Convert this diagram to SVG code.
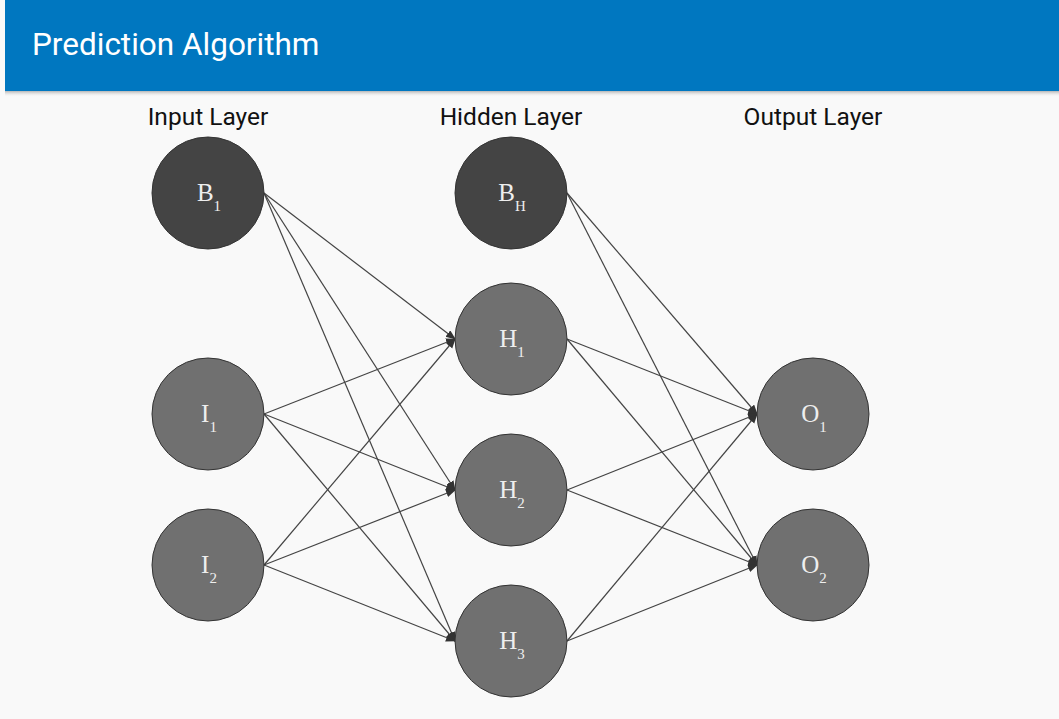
<svg xmlns="http://www.w3.org/2000/svg" width="1059" height="719" viewBox="0 0 1059 719">
<style>
.bg{fill:#f9f9f9}
.hdr{fill:#0077c0}
.title{font-family:Roboto,"Liberation Sans",sans-serif;font-size:31.5px;fill:#ffffff}
.layer{font-family:Roboto,"Liberation Sans",sans-serif;font-size:24.5px;fill:#111111;text-anchor:middle}
.bias{fill:#444444;stroke:#333333;stroke-width:1}
.unit{fill:#707070;stroke:#333333;stroke-width:1}
.lbl{font-family:"Liberation Serif","Times New Roman",serif;font-size:25px;fill:#eeeeee;text-anchor:middle}
.sub{font-size:15px}
.edge{stroke:#444444;stroke-width:1.2;fill:none;marker-end:url(#arr)}
</style>
<defs>
<marker id="arr" markerUnits="userSpaceOnUse" markerWidth="10" markerHeight="10" refX="9" refY="4" orient="auto">
<path d="M0,0 L10,4 L0,8 z" fill="#333333"/>
</marker>
<linearGradient id="shadow" x1="0" y1="0" x2="0" y2="1">
<stop offset="0" stop-color="#999999" stop-opacity="0.7"/>
<stop offset="1" stop-color="#f9f9f9" stop-opacity="0"/>
</linearGradient>
</defs>
<rect class="bg" x="0" y="0" width="1059" height="719"/>
<rect x="5" y="91" width="1054" height="6" fill="url(#shadow)"/>
<rect class="hdr" x="5" y="0" width="1054" height="91"/>
<text class="title" x="32" y="55">Prediction Algorithm</text>
<text class="layer" x="208" y="125">Input Layer</text>
<text class="layer" x="511" y="125">Hidden Layer</text>
<text class="layer" x="813" y="125">Output Layer</text>
<g id="connectors">
<line class="edge" x1="264" y1="193" x2="455" y2="339"/>
<line class="edge" x1="264" y1="193" x2="455" y2="490"/>
<line class="edge" x1="264" y1="193" x2="455" y2="641"/>
<line class="edge" x1="264" y1="414" x2="455" y2="339"/>
<line class="edge" x1="264" y1="414" x2="455" y2="490"/>
<line class="edge" x1="264" y1="414" x2="455" y2="641"/>
<line class="edge" x1="264" y1="565" x2="455" y2="339"/>
<line class="edge" x1="264" y1="565" x2="455" y2="490"/>
<line class="edge" x1="264" y1="565" x2="455" y2="641"/>
<line class="edge" x1="567" y1="193" x2="757" y2="414"/>
<line class="edge" x1="567" y1="193" x2="757" y2="565"/>
<line class="edge" x1="567" y1="339" x2="757" y2="414"/>
<line class="edge" x1="567" y1="339" x2="757" y2="565"/>
<line class="edge" x1="567" y1="490" x2="757" y2="414"/>
<line class="edge" x1="567" y1="490" x2="757" y2="565"/>
<line class="edge" x1="567" y1="641" x2="757" y2="414"/>
<line class="edge" x1="567" y1="641" x2="757" y2="565"/>
</g>
<g id="B1"><circle class="bias" cx="208" cy="193" r="56"/><text class="lbl" x="209" y="201">B<tspan class="sub" dy="10">1</tspan></text></g>
<g id="I1"><circle class="unit" cx="208" cy="414" r="56"/><text class="lbl" x="209" y="422">I<tspan class="sub" dy="10">1</tspan></text></g>
<g id="I2"><circle class="unit" cx="208" cy="565" r="56"/><text class="lbl" x="209" y="573">I<tspan class="sub" dy="10">2</tspan></text></g>
<g id="BH"><circle class="bias" cx="511" cy="193" r="56"/><text class="lbl" x="512" y="201">B<tspan class="sub" dy="10">H</tspan></text></g>
<g id="H1"><circle class="unit" cx="511" cy="339" r="56"/><text class="lbl" x="512" y="347">H<tspan class="sub" dy="10">1</tspan></text></g>
<g id="H2"><circle class="unit" cx="511" cy="490" r="56"/><text class="lbl" x="512" y="498">H<tspan class="sub" dy="10">2</tspan></text></g>
<g id="H3"><circle class="unit" cx="511" cy="641" r="56"/><text class="lbl" x="512" y="649">H<tspan class="sub" dy="10">3</tspan></text></g>
<g id="O1"><circle class="unit" cx="813" cy="414" r="56"/><text class="lbl" x="814" y="422">O<tspan class="sub" dy="10">1</tspan></text></g>
<g id="O2"><circle class="unit" cx="813" cy="565" r="56"/><text class="lbl" x="814" y="573">O<tspan class="sub" dy="10">2</tspan></text></g>
</svg>
